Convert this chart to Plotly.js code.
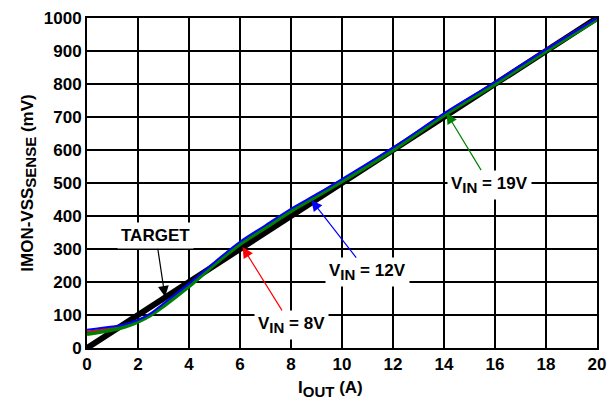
<!DOCTYPE html>
<html><head><meta charset="utf-8">
<script src="https://cdn.plot.ly/plotly-3.0.1.min.js"></script>
<style>html,body{margin:0;padding:0;background:#fff}</style>
</head><body>
<div id="chart" style="width:616px;height:401px"></div>
<script>
const iout = [0,1,1.5,2,2.5,3,4,5,6,7,8,9,10,12,14,16,18,20];
const vin8 = [48,60,68,82,102,130,190,256,318,368,418,463,508,603,708,803,903,998];
const vin12 = [55,65,72,85,105,135,195,260,322,372,422,466,512,607,711,806,905,1000];
const vin19 = [42,55,65,80,100,127,187,254,315,365,415,460,505,600,705,800,900,996];
const targetX = [0,20];
const targetY = [0,1000];

const traces = [
  {x:targetX,y:targetY,mode:'lines',line:{color:'#000',width:6},hoverinfo:'skip'},
  {x:iout,y:vin8,mode:'lines',line:{color:'#ff0000',width:3,shape:'spline'}},
  {x:iout,y:vin19,mode:'lines',line:{color:'#008000',width:4,shape:'spline'}},
  {x:iout,y:vin12,mode:'lines',line:{color:'#0000ff',width:2,shape:'spline'}}
];
const FAM = 'Liberation Sans, Arial, sans-serif';
const f = {family:FAM,size:17,color:'#000',weight:'bold'};
const sub = s => '<sub><span style="font-size:15px">'+s+'</span></sub>';
const ann = (text,x,y,ax,ay,color)=>({text:'<b>'+text+'</b>',x:x,y:y,ax:ax,ay:ay,axref:'x',ayref:'y',xref:'x',yref:'y',
  showarrow:true,arrowhead:2,arrowsize:1.8,arrowwidth:1.2,arrowcolor:color,bgcolor:'#fff',borderpad:3,font:f,standoff:0});
const layout = {
  width:616,height:401,margin:{l:87,r:19,t:18,b:53},
  paper_bgcolor:'#fff',plot_bgcolor:'#fff',showlegend:false,
  font:{family:FAM,color:'#000'},
  xaxis:{range:[0,20],dtick:2,showgrid:true,gridcolor:'#000',gridwidth:2,zeroline:false,showline:true,linecolor:'#000',linewidth:2,mirror:true,
    ticks:'',tickfont:{size:17,weight:'bold'}},
  yaxis:{range:[0,1000],dtick:100,showgrid:true,gridcolor:'#000',gridwidth:2,zeroline:false,showline:true,linecolor:'#000',linewidth:2,mirror:true,
    ticks:'',tickfont:{size:17,weight:'bold'},title:{text:'<b>IMON-VSS'+sub('SENSE')+' (mV)</b>',font:{size:17,weight:'bold'},standoff:6}},
  annotations:[
    {text:'<b>I'+sub('OUT')+' (A)</b>',xref:'paper',yref:'paper',x:0.478,y:-0.125,xanchor:'center',yanchor:'middle',showarrow:false,font:f},
    ann('TARGET',3.06,155,2.7,340,'#000'),
    ann('V'+sub('IN')+' = 8V',6.1,306,8.0,70,'#ff0000'),
    ann('V'+sub('IN')+' = 12V',8.8,448,11.0,230,'#0000ff'),
    ann('V'+sub('IN')+' = 19V',14.1,712,15.8,495,'#008000')
  ]
};
Plotly.newPlot('chart',traces,layout,{displayModeBar:false,staticPlot:true});
</script>
</body></html>
